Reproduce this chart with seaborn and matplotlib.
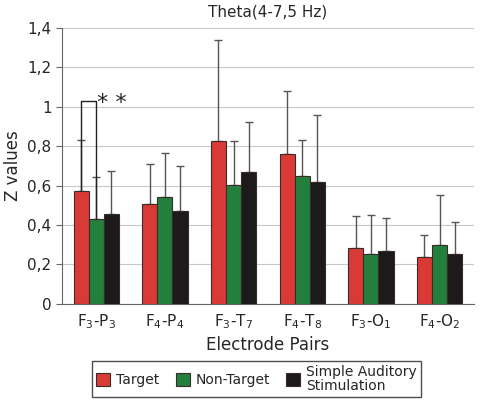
import pandas as pd
import matplotlib
matplotlib.use("Agg")
import matplotlib.pyplot as plt
import seaborn as sns

# data
pairs = ["F$_3$-P$_3$", "F$_4$-P$_4$", "F$_3$-T$_7$", "F$_4$-T$_8$", "F$_3$-O$_1$", "F$_4$-O$_2$"]
conditions = ["Target", "Non-Target", "Simple Auditory\nStimulation"]
target = [0.57, 0.505, 0.825, 0.76, 0.285, 0.24]
non_target = [0.43, 0.54, 0.605, 0.65, 0.255, 0.30]
simple_aud = [0.455, 0.47, 0.67, 0.62, 0.27, 0.255]
target_err = [0.26, 0.205, 0.515, 0.32, 0.16, 0.11]
non_target_err = [0.215, 0.225, 0.22, 0.18, 0.195, 0.25]
simple_aud_err = [0.22, 0.23, 0.25, 0.34, 0.165, 0.16]
yticks = [0, 0.2, 0.4, 0.6, 0.8, 1.0, 1.2, 1.4]
ytick_labels = ["0", "0,2", "0,4", "0,6", "0,8", "1", "1,2", "1,4"]
bracket_y = 1.03

colors = ["#d93a36", "#23803c", "#1c1a1a"]

rows = []
for vals, errs, cond in [(target, target_err, conditions[0]),
                         (non_target, non_target_err, conditions[1]),
                         (simple_aud, simple_aud_err, conditions[2])]:
    for p, v, e in zip(pairs, vals, errs):
        rows.append({"pair": p, "cond": cond, "value": v, "err": e})
df = pd.DataFrame(rows)

sns.set_style("white")
fig = plt.figure(figsize=(4.84, 4.04), dpi=100)
ax = fig.add_axes([0.128, 0.248, 0.851, 0.683])

sns.barplot(data=df, x="pair", y="value", hue="cond", palette=colors,
            saturation=1, errorbar=None, width=0.66, edgecolor="#3a2a2a",
            linewidth=0.8, ax=ax, zorder=3)

# one-sided error bars from the bar patches
for cont, cond in zip(ax.containers, conditions):
    sub = df[df["cond"] == cond]
    xs = [b.get_x() + b.get_width() / 2 for b in cont]
    ys = [b.get_height() for b in cont]
    ax.errorbar(xs, ys, yerr=[[0] * len(xs), sub["err"].tolist()], fmt="none",
                ecolor="#555555", elinewidth=1, capsize=3, capthick=1, zorder=2)

# significance bracket between Target and Non-Target for F3-P3
b1 = ax.containers[0][0]
b2 = ax.containers[1][0]
x1 = b1.get_x() + b1.get_width() / 2
x2 = b2.get_x() + b2.get_width() / 2
ax.plot([x1, x1, x2, x2], [b1.get_height(), bracket_y, bracket_y, b2.get_height()],
        color="#222222", lw=1, zorder=4)
ax.text(x2 + 0.01, bracket_y - 0.01, "* *", fontsize=16, va="center", ha="left")

ax.set_ylim(0, 1.4)
ax.set_yticks(yticks)
ax.set_yticklabels(ytick_labels, fontsize=11)
ax.yaxis.grid(True, color="#c8c8c8", lw=0.8, zorder=0)
ax.set_axisbelow(True)
for s in ["top", "right"]:
    ax.spines[s].set_visible(False)
for s in ["left", "bottom"]:
    ax.spines[s].set_color("#666666")
ax.tick_params(axis="x", labelsize=11, length=0, pad=6)
ax.tick_params(axis="y", length=4, left=True, color="#666666")
ax.set_xlim(-0.5, len(pairs) - 0.5)

ax.set_title("Theta(4-7,5 Hz)", fontsize=11, pad=8)
ax.set_ylabel("Z values", fontsize=12)
ax.set_xlabel("Electrode Pairs", fontsize=12, labelpad=4)

handles, labels = ax.get_legend_handles_labels()
ax.get_legend().remove()
leg = fig.legend(handles, labels, loc="lower center", bbox_to_anchor=(0.53, 0.0),
                 ncol=3, frameon=True, fancybox=False, edgecolor="#222222",
                 fontsize=10, handlelength=1.0, handleheight=1.0,
                 columnspacing=1.2, handletextpad=0.4, borderpad=0.3,
                 labelspacing=0.1)
leg.get_frame().set_linewidth(1)
for t in leg.get_texts():
    t.set_linespacing(1.0)

fig.savefig("out.png", dpi=100)
